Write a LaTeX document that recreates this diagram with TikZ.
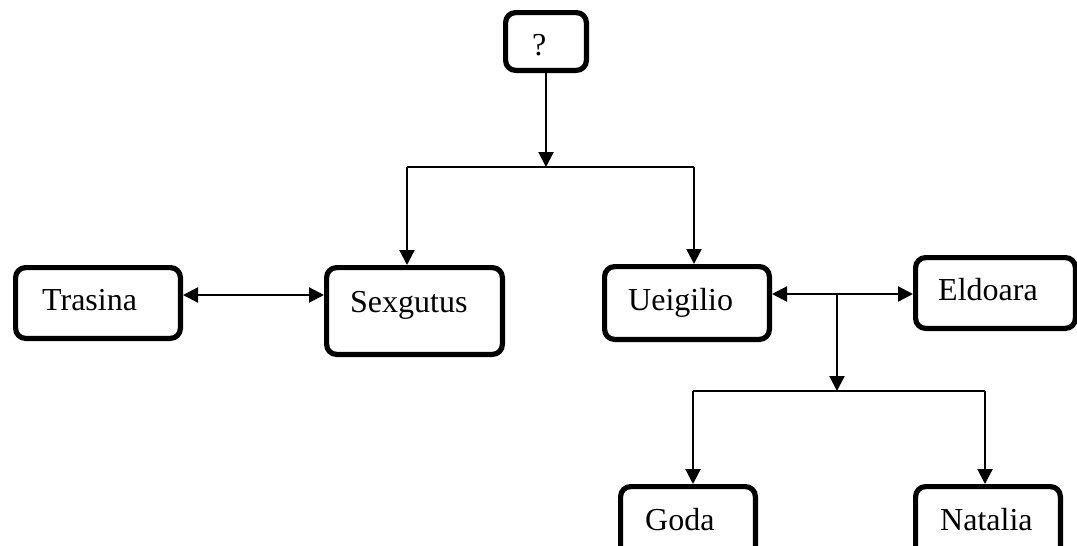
\documentclass[tikz,border=0pt]{standalone}
\usepackage{fontspec}
\setmainfont{Liberation Serif}
\usetikzlibrary{arrows.meta}
\begin{document}
\begin{tikzpicture}[x=1pt,y=-1pt,
  box/.style={draw=black,line width=5.2pt,rounded corners=10pt,inner sep=0pt},
  lbl/.style={inner sep=0pt,anchor=base west,font=\fontsize{32}{36}\selectfont},
  conn/.style={line width=2.2pt,-{Triangle[width=15pt,length=15pt]}},
  dconn/.style={line width=2.2pt,{Triangle[width=15pt,length=15pt]}-{Triangle[width=15pt,length=15pt]}},
  bus/.style={line width=1.8pt}]
\useasboundingbox (0,0) rectangle (1077,546);
% boxes
\node[box,minimum width=80.8pt,minimum height=57.8pt] (q) at (546,41.5) {};
\node[box,minimum width=164.8pt,minimum height=70.8pt] (tr) at (98,303) {};
\node[box,minimum width=175.8pt,minimum height=86.8pt] (sx) at (414.5,311) {};
\node[box,minimum width=164.8pt,minimum height=72.8pt] (ue) at (687,303) {};
\node[box,minimum width=159.8pt,minimum height=70.8pt] (el) at (995.5,293) {};
\node[box,minimum width=134.8pt,minimum height=70.8pt] (go) at (688,522) {};
\node[box,minimum width=144.8pt,minimum height=70.8pt] (na) at (988,522) {};
% labels
\node[lbl] (qt) at (532,55) {?};
\node[lbl] (trt) at (42,310) {Trasina};
\node[lbl] (sxt) at (350,312) {Sexgutus};
\node[lbl] (uet) at (628,310) {Ueigilio};
\node[lbl] (elt) at (938,300) {Eldoara};
\node[lbl] (got) at (645,530) {Goda};
\node[lbl] (nat) at (940,530) {Natalia};
% coordinates
\coordinate (b1M) at (546,167);
\coordinate (b1L) at (407,167);
\coordinate (b1R) at (694,167);
\coordinate (r1) at (0,295);
\coordinate (r2) at (0,294);
\coordinate (m2) at (837,294);
\coordinate (b2M) at (837,391);
\coordinate (b2L) at (693,391);
\coordinate (b2R) at (985,391);
% connectors
\draw[conn] (q.south) -- (b1M);
\draw[bus] (b1L) -- (b1R);
\draw[conn] (b1L) -- (b1L |- sx.north);
\draw[conn] (b1R) -- (b1R |- ue.north);
\draw[dconn] (tr.east |- r1) -- (sx.west |- r1);
\draw[dconn] (ue.east |- r2) -- (el.west |- r2);
\draw[conn] (m2) -- (b2M);
\draw[bus] (b2L) -- (b2R);
\draw[conn] (b2L) -- (b2L |- go.north);
\draw[conn] (b2R) -- (b2R |- na.north);
\end{tikzpicture}
\end{document}
